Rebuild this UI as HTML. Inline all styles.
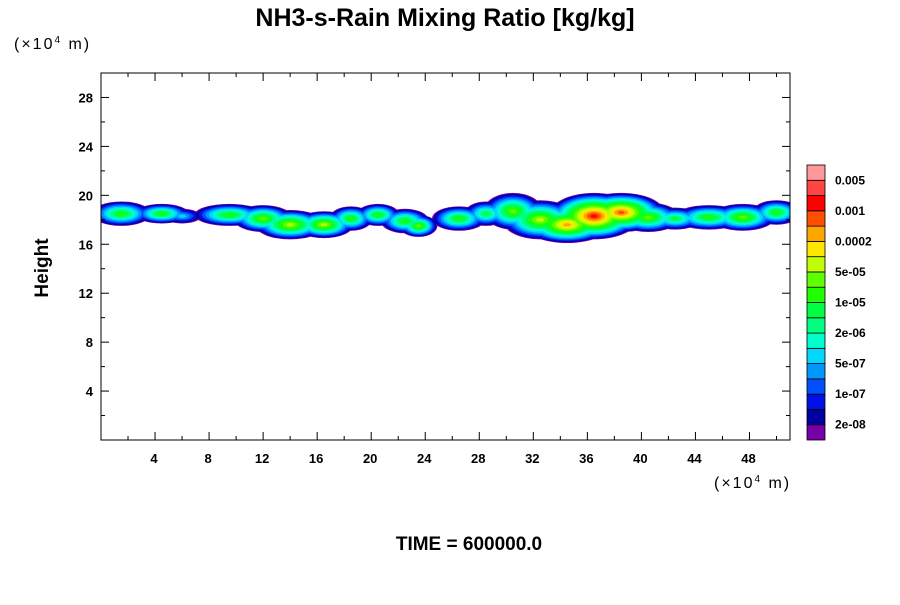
<!DOCTYPE html>
<html><head><meta charset="utf-8"><style>
body{margin:0;background:#fff;}
svg text{font-family:"Liberation Sans",sans-serif;}
</style></head><body>
<svg id="c" width="900" height="600" xmlns="http://www.w3.org/2000/svg">
<text x="445" y="26" font-size="25" font-weight="bold" text-anchor="middle">NH3-s-Rain Mixing Ratio [kg/kg]</text>
<text x="14" y="49" font-size="16" letter-spacing="2">(×10<tspan font-size="10" dy="-6">4</tspan><tspan dy="6"> m)</tspan></text>
<text x="714" y="488" font-size="16" letter-spacing="2">(×10<tspan font-size="10" dy="-6">4</tspan><tspan dy="6"> m)</tspan></text>
<text x="48" y="268" font-size="19" font-weight="bold" text-anchor="middle" transform="rotate(-90 48 268)">Height</text>
<text x="469" y="550" font-size="19" font-weight="bold" text-anchor="middle">TIME = 600000.0</text>
<defs><clipPath id="pc"><rect x="101" y="73" width="689" height="367"/></clipPath></defs>
<g id="field" clip-path="url(#pc)"></g>
<g id="axes"></g>
<g id="cbar"></g>
</svg>
<script>
const xTicks=[4,8,12,16,20,24,28,32,36,40,44,48];
const yTicks=[4,8,12,16,20,24,28];
const levelColors=['#7800a8','#0000a0','#0010e8','#0050ff','#0098ff','#00d8ff','#00ffcc','#00ff80','#00ff40','#20ff00','#60ff00','#c0ff00','#ffe600','#ffa500','#ff5000','#ff0000','#ff4444','#ff9999'];
const levelLabels=['2e-08','1e-07','5e-07','2e-06','1e-05','5e-05','0.0002','0.001','0.005'];
// cloud blobs: center x, center height, half-width, half-height, peak level
const blobX=[1.5,4.5,6,9.5,12,14,16.5,18.5,20.5,22.5,23.5,26.5,28.5,30.5,32.5,34.5,36.5,38.5,40.5,42.5,45,47.5,50];
const blobY=[18.5,18.5,18.3,18.4,18.1,17.6,17.6,18.1,18.4,17.9,17.5,18.1,18.5,18.7,18.0,17.6,18.3,18.6,18.2,18.1,18.2,18.2,18.6];
const blobW=[2.2,2.0,1.4,2.6,2.2,2.6,2.2,1.6,1.6,1.8,1.4,2.0,1.6,2.2,2.8,3.2,3.4,3.2,2.4,2.0,2.6,2.4,1.8];
const blobH=[1.0,0.8,0.6,0.9,1.1,1.2,1.1,1.0,0.9,1.0,0.9,1.0,1.0,1.5,1.6,1.5,1.9,1.6,1.2,0.9,1.0,1.1,1.0];
const blobPeak=[9,9,5,9,10,11,11,9,9,9,10,9,8,10,11,13,15,14,10,8,9,10,9];
const X0=101,X1=790,Y0=440,Y1=73,XMAX=51,YMAX=30;
const sx=v=>X0+v/XMAX*(X1-X0), sy=v=>Y0-v/YMAX*(Y0-Y1);
const NS='http://www.w3.org/2000/svg';
function mk(t,a,p){const e=document.createElementNS(NS,t);for(const k in a)e.setAttribute(k,a[k]);p.appendChild(e);return e;}
const field=document.getElementById('field');
const maxPeak=Math.max(...blobPeak);
for(let l=0;l<=maxPeak;l++){
  blobX.forEach((bx,i)=>{
    const pk=blobPeak[i]; if(l>pk) return;
    const f=1-Math.pow(l/(pk+1),1.25);
    const e=mk('ellipse',{cx:sx(bx),cy:sy(blobY[i]),rx:(sx(blobW[i])-sx(0))*f,ry:(sy(0)-sy(blobH[i]))*f,fill:levelColors[l]},field);
    
    
  });
}
const ax=document.getElementById('axes');
const fr=mk('rect',{x:X0,y:Y1,width:X1-X0,height:Y0-Y1,fill:'none',stroke:'#000','stroke-width':1},ax);

for(let v=2;v<XMAX;v+=2){const big=v%4===0;mk('line',{x1:sx(v),x2:sx(v),y1:Y0,y2:Y0-(big?8:4),stroke:'#000'},ax);mk('line',{x1:sx(v),x2:sx(v),y1:Y1,y2:Y1+(big?8:4),stroke:'#000'},ax);}
for(let v=2;v<YMAX;v+=2){const big=v%4===0;mk('line',{y1:sy(v),y2:sy(v),x1:X0,x2:X0+(big?8:4),stroke:'#000'},ax);mk('line',{y1:sy(v),y2:sy(v),x1:X1,x2:X1-(big?8:4),stroke:'#000'},ax);}
xTicks.forEach(v=>{const t=mk('text',{x:sx(v)-1,y:Y0+23,'font-size':13,'font-weight':'bold','text-anchor':'middle'},ax);t.textContent=v;
});
yTicks.forEach(v=>{const t=mk('text',{x:X0-8,y:sy(v)+5,'font-size':13,'font-weight':'bold','text-anchor':'end'},ax);t.textContent=v;
});
const cb=document.getElementById('cbar');
const CB0=440,CB1=165,bh=(CB0-CB1)/levelColors.length;
levelColors.forEach((c,i)=>{const r=mk('rect',{x:807,y:CB0-(i+1)*bh,width:18,height:bh,fill:c,stroke:'#000','stroke-width':0.8},cb);
});
levelLabels.forEach((s,j)=>{const t=mk('text',{x:835,y:CB0-(2*j+1)*bh+4,'font-size':12,'font-weight':'bold'},cb);t.textContent=s;
});
</script>
</body></html>
